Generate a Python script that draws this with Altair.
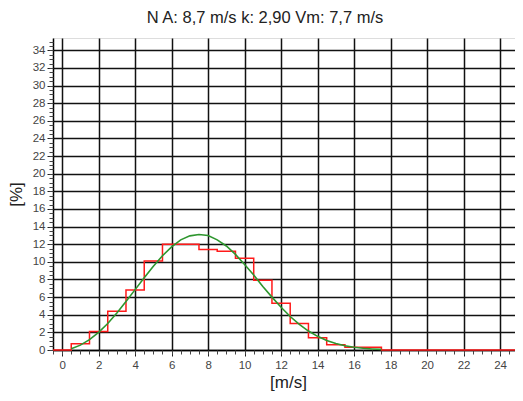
import altair as alt
import pandas as pd

# Observed frequency histogram (1 m/s bins, centred on integers)
bin_centers = list(range(0, 25))
bin_freq = [0, 0.7, 2.1, 4.4, 6.8, 10.1, 12.0, 12.0, 11.4, 11.2, 10.4, 7.9, 5.3,
            3.0, 1.4, 0.6, 0.3, 0.3, 0, 0, 0, 0, 0, 0, 0]

# Fitted curve
curve_x = [0.5, 1, 1.5, 2, 2.5, 3, 3.5, 4, 4.5, 5, 5.5, 6, 6.5, 7, 7.5, 8, 8.5, 9,
           9.5, 10, 10.5, 11, 11.5, 12, 12.5, 13, 13.5, 14, 14.5, 15, 15.5, 16,
           16.5, 17, 17.5]
curve_y = [0.15, 0.55, 1.17, 2.0, 3.0, 4.2, 5.5, 6.85, 8.2, 9.5, 10.7, 11.7, 12.5,
           12.95, 13.1, 13.0, 12.5, 11.8, 10.85, 9.7, 8.5, 7.2, 6.0, 4.85, 3.8,
           2.9, 2.15, 1.55, 1.08, 0.73, 0.48, 0.31, 0.19, 0.12, 0.07]

x_major = list(range(0, 26, 2))
y_major = list(range(0, 36, 2))
x_minor = [v / 2 for v in range(-1, 52)]
y_minor = [v / 2 for v in range(0, 71)]

title_text = "N A: 8,7 m/s k: 2,90 Vm: 7,7 m/s"

X_MIN, X_MAX = -0.5, 24.82
edges = [c - 0.5 for c in bin_centers] + [X_MAX]
hist_df = pd.DataFrame({"x": edges, "y": bin_freq + [0]})
curve_df = pd.DataFrame({"x": curve_x, "y": curve_y})

W, H = 462, 312
xs = alt.Scale(domain=[X_MIN, X_MAX], nice=False, zero=False)
ys = alt.Scale(domain=[0, 35.4], nice=False)
FONT = "Liberation Sans"

major_x = alt.Axis(values=x_major, grid=True, gridColor="#111", gridWidth=1.5,
                   tickSize=6, tickColor="#222", tickWidth=1, labelFontSize=11.5,
                   labelColor="#444", labelFont=FONT, labelPadding=3,
                   domainColor="#000", domainWidth=1.5, zindex=0,
                   title="[m/s]", titleFont=FONT, titleFontSize=17,
                   titleFontWeight="normal", titleColor="#222",
                   titleX=235, titleY=32, titleBaseline="middle", titleAnchor="middle")
major_y = alt.Axis(values=y_major, grid=True, gridColor="#111", gridWidth=1.5,
                   tickSize=6, tickColor="#222", tickWidth=1, labelFontSize=11.5,
                   labelColor="#444", labelFont=FONT, labelPadding=2,
                   domainColor="#000", domainWidth=1.5, zindex=0,
                   title="[%]", titleFont=FONT, titleFontSize=17,
                   titleFontWeight="normal", titleColor="#222",
                   titleX=-37, titleY=156, titleAngle=-90, titleAlign="center",
                   titleBaseline="middle")
minor_x = alt.Axis(values=x_minor, grid=False, labels=False, domain=False,
                   tickSize=4, tickColor="#444", tickWidth=1, title=None,
                   orient="bottom", zindex=0)
minor_y = alt.Axis(values=y_minor, grid=False, labels=False, domain=False,
                   tickSize=4, tickColor="#444", tickWidth=1, title=None,
                   orient="left", zindex=0)

hist = alt.Chart(hist_df).mark_line(interpolate="step-after", color="#ff1a1a",
                                    strokeWidth=1.5).encode(
    x=alt.X("x:Q", scale=xs, axis=major_x),
    y=alt.Y("y:Q", scale=ys, axis=major_y),
)
curve = alt.Chart(curve_df).mark_line(color="#2e962e", strokeWidth=1.6).encode(
    x=alt.X("x:Q", scale=xs, axis=minor_x),
    y=alt.Y("y:Q", scale=ys, axis=minor_y),
)

chart = alt.layer(hist, curve).resolve_axis(x="independent", y="independent").properties(
    width=W, height=H,
    autosize=alt.AutoSizeParams(type="none"),
    padding={"left": 45, "top": 30, "right": 0, "bottom": 43},
    title=alt.TitleParams(title_text, font=FONT, fontSize=16.5, fontWeight="normal",
                          color="#222", anchor="middle", dx=-19, offset=12),
).configure_view(stroke=None).configure(background="white")

chart.save("out.html", embed_options={"renderer": "svg", "actions": False})
